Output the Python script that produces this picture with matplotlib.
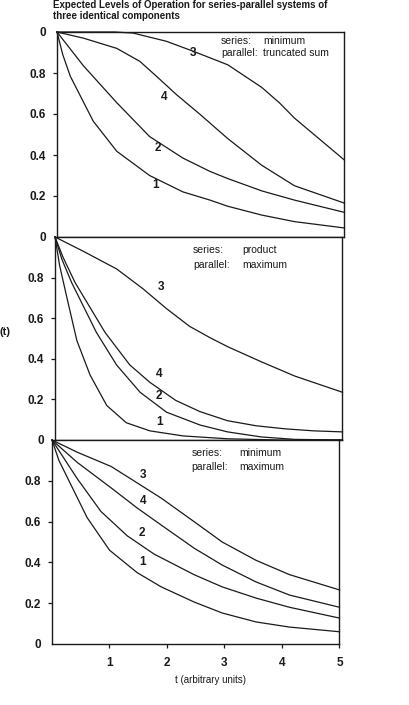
import matplotlib
matplotlib.use("Agg")
import matplotlib.pyplot as plt

plt.rcParams['font.family'] = ['Liberation Sans', 'DejaVu Sans']

# ==========================================
# DATA
# ==========================================
TITLE_1 = "Expected Levels of Operation for series-parallel systems of"
TITLE_2 = "three identical components"
X_LABEL = "t (arbitrary units)"
Y_LABEL = "(t)"
X_TICKS = [1, 2, 3, 4, 5]

# panel 1: series minimum / parallel truncated sum
P1_T1 = [0, 0.1, 0.23, 0.63, 1.04, 1.61, 2.19, 2.66, 2.97, 3.56, 4.13, 5.0]
P1_V1 = [1.0, 0.89, 0.785, 0.565, 0.418, 0.30, 0.22, 0.18, 0.15, 0.107, 0.075, 0.044]
P1_T2 = [0, 0.46, 1.04, 1.61, 2.19, 2.66, 2.97, 3.56, 4.13, 5.0]
P1_V2 = [1.0, 0.835, 0.655, 0.49, 0.385, 0.32, 0.285, 0.225, 0.18, 0.12]
P1_T3 = [0, 0.5, 1.0, 1.32, 1.9, 2.37, 2.97, 3.56, 3.87, 4.13, 5.0]
P1_V3 = [1.0, 1.0, 1.0, 0.995, 0.955, 0.906, 0.84, 0.73, 0.654, 0.58, 0.375]
P1_T4 = [0, 0.46, 1.04, 1.44, 1.73, 2.08, 2.48, 2.97, 3.56, 4.13, 5.0]
P1_V4 = [1.0, 0.97, 0.92, 0.857, 0.784, 0.694, 0.60, 0.48, 0.35, 0.25, 0.165]

# panel 2: series product / parallel maximum
P2_T1 = [0, 0.08, 0.2, 0.38, 0.61, 0.9, 1.24, 1.65, 2.23, 3.0, 3.9, 5.0]
P2_V1 = [1.0, 0.86, 0.71, 0.49, 0.32, 0.17, 0.085, 0.045, 0.02, 0.006, 0.0, 0.0]
P2_T2 = [0, 0.12, 0.29, 0.72, 1.07, 1.48, 1.94, 2.52, 3.0, 3.59, 4.17, 5.0]
P2_V2 = [1.0, 0.89, 0.775, 0.53, 0.37, 0.235, 0.137, 0.074, 0.04, 0.015, 0.003, 0.0]
P2_T3 = [0, 0.49, 1.07, 1.53, 1.94, 2.34, 2.69, 3.0, 3.59, 4.17, 5.0]
P2_V3 = [1.0, 0.93, 0.843, 0.745, 0.647, 0.56, 0.505, 0.46, 0.385, 0.315, 0.235]
P2_T4 = [0, 0.14, 0.35, 0.87, 1.30, 1.65, 2.1, 2.52, 3.0, 3.5, 4.0, 4.5, 5.0]
P2_V4 = [1.0, 0.90, 0.775, 0.53, 0.37, 0.284, 0.195, 0.14, 0.095, 0.07, 0.055, 0.045, 0.04]

# panel 3: series minimum / parallel maximum
P3_T1 = [0, 0.12, 0.33, 0.61, 1.0, 1.48, 1.9, 2.47, 2.96, 3.55, 4.13, 5.0]
P3_V1 = [1.0, 0.9, 0.78, 0.62, 0.46, 0.35, 0.28, 0.206, 0.152, 0.108, 0.083, 0.06]
P3_T2 = [0, 0.44, 0.85, 1.31, 1.78, 2.47, 2.96, 3.55, 4.13, 5.0]
P3_V2 = [1.0, 0.81, 0.65, 0.53, 0.44, 0.34, 0.28, 0.225, 0.18, 0.127]
P3_T3 = [0, 0.44, 1.03, 1.48, 1.9, 2.47, 2.96, 3.55, 4.13, 5.0]
P3_V3 = [1.0, 0.94, 0.87, 0.79, 0.715, 0.60, 0.50, 0.41, 0.34, 0.265]
P3_T4 = [0, 0.44, 1.03, 1.48, 1.9, 2.47, 2.96, 3.55, 4.13, 5.0]
P3_V4 = [1.0, 0.89, 0.765, 0.667, 0.583, 0.47, 0.387, 0.304, 0.24, 0.18]

CURVE_NAMES = ["1", "2", "3", "4"]
P1_RULES = [("series:", "minimum"), ("parallel:", "truncated sum")]
P2_RULES = [("series:", "product"), ("parallel:", "maximum")]
P3_RULES = [("series:", "minimum"), ("parallel:", "maximum")]

# ==========================================
# LAYOUT (pixel geometry of the scan)
# ==========================================
W, H = 410, 705
PX_PER_UNIT = 57.5
INK = '#1a1a1a'

panels = [
    dict(x0=57, top=32, bottom=237,
         curves=[(P1_T1, P1_V1), (P1_T2, P1_V2), (P1_T3, P1_V3), (P1_T4, P1_V4)],
         rules=P1_RULES, rule_t=(2.85, 3.58), rule_v=(0.958, 0.896),
         labels=[(1.72, 0.254), (1.75, 0.434), (2.36, 0.90), (1.87, 0.683)],
         yticks=[0, 0.2, 0.4, 0.6, 0.8, 1.0], ylabels=['0', '0.2', '0.4', '0.6', '0.8', '0']),
    dict(x0=55, top=237, bottom=440,
         curves=[(P2_T1, P2_V1), (P2_T2, P2_V2), (P2_T3, P2_V3), (P2_T4, P2_V4)],
         rules=P2_RULES, rule_t=(2.40, 3.25), rule_v=(0.935, 0.864),
         labels=[(1.81, 0.088), (1.81, 0.216), (1.84, 0.755), (1.81, 0.324)],
         yticks=[0, 0.2, 0.4, 0.6, 0.8], ylabels=['0', '0.2', '0.4', '0.6', '0.8']),
    dict(x0=52, top=440, bottom=644,
         curves=[(P3_T1, P3_V1), (P3_T2, P3_V2), (P3_T3, P3_V3), (P3_T4, P3_V4)],
         rules=P3_RULES, rule_t=(2.43, 3.25), rule_v=(0.935, 0.869),
         labels=[(1.57, 0.40), (1.57, 0.545), (1.59, 0.83), (1.59, 0.70)],
         yticks=[0, 0.2, 0.4, 0.6, 0.8], ylabels=['0', '0.2', '0.4', '0.6', '0.8']),
]

fig = plt.figure(figsize=(W / 100, H / 100), dpi=100)
fig.patch.set_facecolor('white')

for i, p in enumerate(panels):
    ax = fig.add_axes([p['x0'] / W, 1 - p['bottom'] / H,
                       5 * PX_PER_UNIT / W, (p['bottom'] - p['top']) / H])
    ax.set_xlim(0, 5)
    ax.set_ylim(0, 1)

    for (t, v) in p['curves']:
        ax.plot(t, v, color=INK, lw=0.9, solid_joinstyle='round', clip_on=False)

    for name, (lt, lv) in zip(CURVE_NAMES, p['labels']):
        ax.text(lt, lv, name, fontsize=8.5, fontweight='bold', color=INK,
                ha='center', va='center')

    for (left, right), rv in zip(p['rules'], p['rule_v']):
        ax.text(p['rule_t'][0], rv, left, fontsize=7.5, color=INK, ha='left', va='center')
        ax.text(p['rule_t'][1], rv, right, fontsize=7.5, color=INK, ha='left', va='center')

    for s in ax.spines.values():
        s.set_linewidth(1.0)
        s.set_color(INK)

    ax.set_yticks(p['yticks'])
    ax.set_yticklabels(p['ylabels'], fontsize=8.5, fontweight='bold', color=INK)
    ax.tick_params(axis='y', direction='out', length=3, width=0.9, pad=5, colors=INK)
    yt = ax.yaxis.get_major_ticks()
    yt[0].tick1line.set_visible(False)
    if p['yticks'][-1] == 1.0:
        yt[-1].tick1line.set_visible(False)

    if i == 2:
        ax.set_xticks(X_TICKS)
        ax.set_xticklabels([str(x) for x in X_TICKS], fontsize=8.5, fontweight='bold', color=INK)
        ax.tick_params(axis='x', direction='out', length=3, width=0.9, pad=6, colors=INK)
    else:
        ax.set_xticks([])

fig.text(53 / W, 1 - 5 / H, TITLE_1, fontsize=7, fontweight='bold', color=INK,
         ha='left', va='center')
fig.text(53 / W, 1 - 16 / H, TITLE_2, fontsize=7, fontweight='bold', color=INK,
         ha='left', va='center')
fig.text(211 / W, 1 - 680 / H, X_LABEL, fontsize=7, color=INK, ha='center', va='center')
fig.text(0 / W, 1 - 332 / H, Y_LABEL, fontsize=8, fontweight='bold', color=INK,
         ha='left', va='center')

fig.savefig('out.png', dpi=100, facecolor='white')
